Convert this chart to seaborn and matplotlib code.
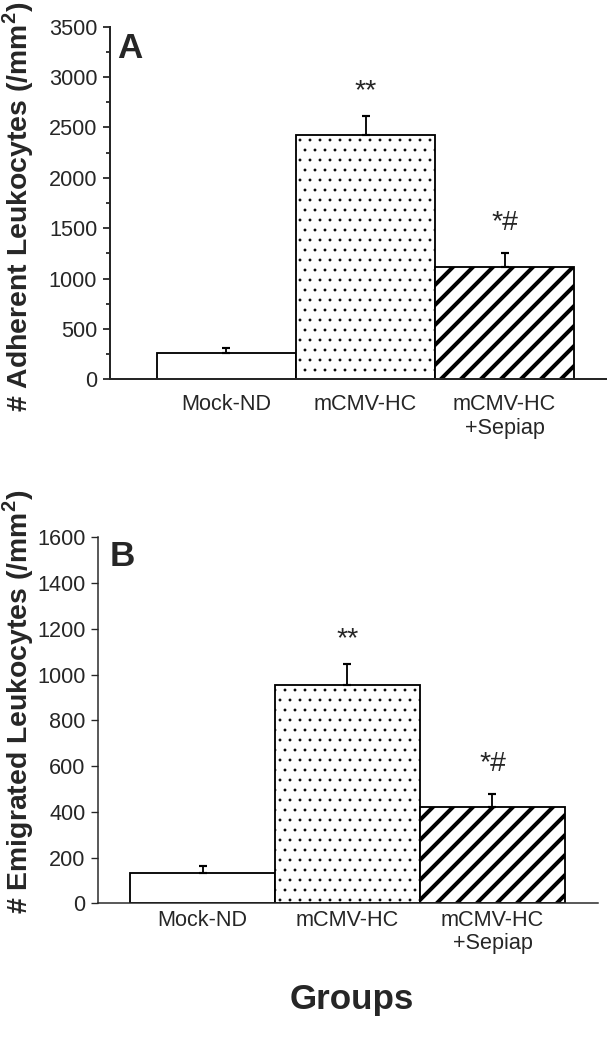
import numpy as np
import pandas as pd
import matplotlib
matplotlib.use('Agg')
import matplotlib.pyplot as plt
from matplotlib.ticker import MultipleLocator
import seaborn as sns

groups = ['Mock-ND', 'mCMV-HC', 'mCMV-HC\n+Sepiap']
adherent = [264, 2425, 1118]
adherent_err = [45, 192, 133]
emigrated = [131, 954, 422]
emigrated_err = [33, 92, 56]
marks = ['', '**', '*#']
hatches = ['', '..', '//']

sns.set_style('ticks')
plt.rcParams['font.family'] = ['Liberation Sans', 'DejaVu Sans']
plt.rcParams['mathtext.fontset'] = 'custom'
plt.rcParams['mathtext.rm'] = 'Liberation Sans'
plt.rcParams['mathtext.bf'] = 'Liberation Sans:bold'
plt.rcParams['hatch.linewidth'] = 2.4

W, H = 607, 1050
fig = plt.figure(figsize=(W / 120, H / 120), dpi=120)


def panel(rect, vals, errs, ymax, major, minor, xlim, letter, letter_xy, spine_w, lpad, offs):
    ax = fig.add_axes(rect)
    df = pd.DataFrame({'group': groups, 'value': vals})
    sns.barplot(data=df, x='group', y='value', width=1.0, color='white',
                edgecolor='black', linewidth=1.1, saturation=1, errorbar=None, ax=ax)
    for p, h in zip(ax.patches, hatches):
        p.set_facecolor('white')
        p.set_edgecolor('black')
        p.set_hatch(h)
        if hasattr(p, 'set_hatch_linewidth'):
            p.set_hatch_linewidth(2.4 if h == '//' else 0.5)
    ax.errorbar(x=np.arange(len(vals)), y=vals, yerr=[np.zeros(len(vals)), errs],
                fmt='none', ecolor='black', elinewidth=1.1, capsize=2.3, capthick=1.3)
    for i, m in enumerate(marks):
        if m:
            ax.annotate(m, xy=(i, vals[i] + errs[i]), xytext=(0, offs[i]),
                        textcoords='offset points', ha='center', va='baseline',
                        fontsize=17)
    ax.set_xlim(*xlim)
    ax.set_ylim(0, ymax)
    ax.yaxis.set_major_locator(MultipleLocator(major))
    if minor:
        ax.yaxis.set_minor_locator(MultipleLocator(minor))
    ax.set_xlabel('')
    ax.set_ylabel('')
    sns.despine(ax=ax)
    for s in ['left', 'bottom']:
        ax.spines[s].set_linewidth(spine_w)
    ax.tick_params(axis='y', which='major', length=4.2, width=spine_w * 0.9,
                   labelsize=13, pad=3.5, direction='out')
    ax.tick_params(axis='y', which='minor', length=2.2, width=spine_w * 0.9)
    ax.tick_params(axis='x', length=0, labelsize=13, pad=lpad)
    for t in ax.get_xticklabels():
        t.set_linespacing(1.15)
    ax.text(letter_xy[0], letter_xy[1], letter, transform=ax.transAxes,
            fontsize=21, fontweight='bold', ha='left', va='baseline')
    return ax


def rect(l, r, b, t):
    return [l / W, 1 - b / H, (r - l) / W, (b - t) / H]


panel(rect(110, 607, 379.3, 26.7), adherent, adherent_err, 3500, 500, 250,
      (-0.838, 2.737), 'A', (0.014, 0.911), 1.2, 9, [0, 10.5, 14])
panel(rect(98.3, 598, 903.3, 537.3), emigrated, emigrated_err, 1600, 200, None,
      (-0.719, 2.728), 'B', (0.023, 0.922), 0.9, 4, [0, 10.5, 14])

fig.text(18 / W, 1 - 207 / H, '# Adherent Leukocytes (/mm$^{\\mathbf{2}}$)',
         rotation=90, ha='center', va='center', fontsize=17, fontweight='bold')
fig.text(18 / W, 1 - 702 / H, '# Emigrated Leukocytes (/mm$^{\\mathbf{2}}$)',
         rotation=90, ha='center', va='center', fontsize=17, fontweight='bold')
fig.text(352 / W, 1 - 1000 / H, 'Groups', ha='center', va='center',
         fontsize=21, fontweight='bold')

fig.savefig('out.png', dpi=120)
